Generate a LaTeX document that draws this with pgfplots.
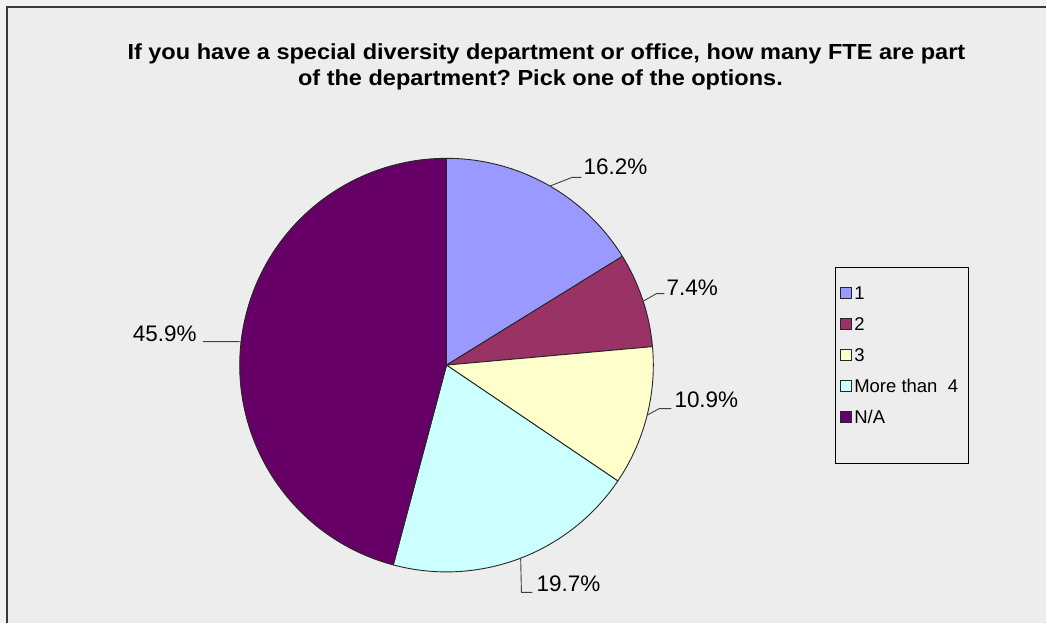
\documentclass[border=0pt]{standalone}
\usepackage{pgfplots}
\usepackage{pgfplotstable}
\pgfplotsset{compat=1.18}
\usepackage{fontspec}
\setmainfont{Liberation Sans}
\newfontfamily\titlefont{Liberation Sans}[FakeStretch=1.08]
\frenchspacing

\definecolor{c1}{HTML}{9999FF}
\definecolor{c2}{HTML}{993366}
\definecolor{c3}{HTML}{FFFFCC}
\definecolor{c4}{HTML}{CCFFFF}
\definecolor{c5}{HTML}{660066}
\definecolor{bg}{HTML}{EDEDED}
\definecolor{outbg}{HTML}{F2F2F2}
\definecolor{framec}{HTML}{3A3A3A}

% name, value, colour, leader start angle, knee, end, text position, side (0 = text right of leader, 1 = left)
\pgfplotstableread[col sep=comma]{
name,value,color,sa,kx,ky,ex,ey,tx,ty,side
1,16.2,c1,60,573,446.5,582,446.5,584,449,0
2,7.4,c2,18,657,330,665,330,667,328,0
3,10.9,c3,-14,660,215,672,215,675,216,0
More than~~4,19.7,c4,-69,522,31,533,31,537,32,0
N/A,45.9,c5,173.5,203,282,203,282,197,282,1
}\piedata

\begin{document}
\begin{tikzpicture}
\fill[outbg] (0,0) rectangle (1047pt,624pt);
\fill[bg] (7pt,0) rectangle (1047pt,617pt);
\draw[framec, line width=2.2pt] (7pt,0) -- (7pt,617pt) -- (1047pt,617pt);
\begin{axis}[
  at={(0,0)}, anchor=south west,
  width=1047pt, height=624pt, scale only axis,
  xmin=0, xmax=1047, ymin=0, ymax=624,
  enlargelimits=false, hide axis, clip=false,
]
\pgfplotsextra{%
  \pgfplotstablegetrowsof{\piedata}%
  \pgfmathtruncatemacro\lastrow{\pgfplotsretval-1}%
  \gdef\total{0}%
  \foreach \i in {0,...,\lastrow}{%
    \pgfplotstablegetelem{\i}{value}\of\piedata
    \pgfmathsetmacro\t{\total+\pgfplotsretval}%
    \xdef\total{\t}%
  }%
  \gdef\startang{90}%
  \foreach \i in {0,...,\lastrow}{%
    \pgfplotstablegetelem{\i}{value}\of\piedata \let\v\pgfplotsretval
    \pgfplotstablegetelem{\i}{color}\of\piedata \let\col\pgfplotsretval
    \pgfmathsetmacro\endang{\startang-\v/\total*360}%
    \filldraw[fill=\col, draw=black!85, line width=0.9pt, line join=round]
      (axis cs:447,258.5) -- ++(\startang:207pt)
      arc[start angle=\startang, end angle=\endang, radius=207pt] -- cycle;
    \xdef\startang{\endang}%
  }%
  % data labels with leader lines
  \foreach \i in {0,...,\lastrow}{%
    \pgfplotstablegetelem{\i}{value}\of\piedata \let\v\pgfplotsretval
    \pgfplotstablegetelem{\i}{sa}\of\piedata \let\sa\pgfplotsretval
    \pgfplotstablegetelem{\i}{kx}\of\piedata \let\kx\pgfplotsretval
    \pgfplotstablegetelem{\i}{ky}\of\piedata \let\ky\pgfplotsretval
    \pgfplotstablegetelem{\i}{ex}\of\piedata \let\ex\pgfplotsretval
    \pgfplotstablegetelem{\i}{ey}\of\piedata \let\ey\pgfplotsretval
    \pgfplotstablegetelem{\i}{tx}\of\piedata \let\tx\pgfplotsretval
    \pgfplotstablegetelem{\i}{ty}\of\piedata \let\ty\pgfplotsretval
    \pgfplotstablegetelem{\i}{side}\of\piedata \let\side\pgfplotsretval
    \draw[black!75, line width=0.9pt] (axis cs:447,258.5) ++(\sa:207pt) -- (axis cs:\kx,\ky) -- (axis cs:\ex,\ey);
    \ifnum\side=0
      \node[anchor=base west, inner sep=0pt, font=\fontsize{22.5}{26}\selectfont] at (axis cs:\tx,\ty) {\v\%};
    \else
      \node[anchor=base east, inner sep=0pt, font=\fontsize{22.5}{26}\selectfont] at (axis cs:\tx,\ty) {\v\%};
    \fi
  }%
  % legend
  \draw[black, line width=0.9pt] (axis cs:836,160) rectangle (axis cs:969,356);
  \foreach \i in {0,...,\lastrow}{%
    \pgfplotstablegetelem{\i}{name}\of\piedata \let\nm\pgfplotsretval
    \pgfplotstablegetelem{\i}{color}\of\piedata \let\col\pgfplotsretval
    \pgfmathsetmacro\ly{331-31*\i}%
    \filldraw[fill=\col, draw=black!85, line width=0.7pt] (axis cs:841,\ly-5.5) rectangle (axis cs:852,\ly+5.5);
    \node[anchor=base west, inner sep=0pt, font=\fontsize{18.5}{22}\selectfont] at (axis cs:855,\ly-6.8) {\nm};
  }%
}
\end{axis}
\node[anchor=base, inner sep=0pt, font=\titlefont\bfseries\fontsize{21.8}{25}\selectfont] at (547pt,564pt)
  {If you have a special diversity department or office, how many FTE are part};
\node[anchor=base, inner sep=0pt, font=\titlefont\bfseries\fontsize{21.8}{25}\selectfont] at (541pt,538pt)
  {of the department? Pick one of the options.};
\end{tikzpicture}
\end{document}
